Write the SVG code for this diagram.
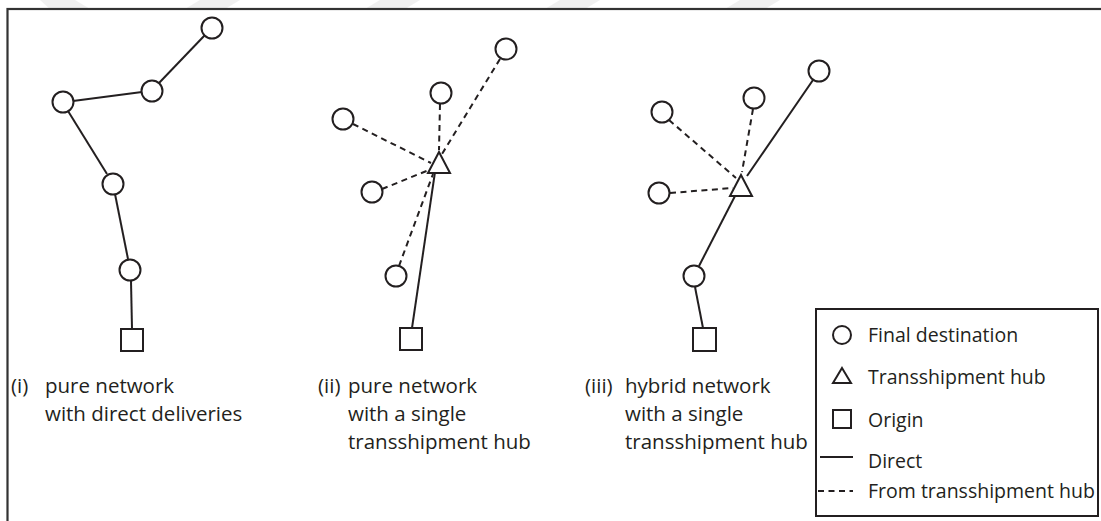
<svg xmlns="http://www.w3.org/2000/svg" width="1101" height="521" viewBox="0 0 1101 521">
<style>
.n{fill:#fff;stroke:#231f20;stroke-width:2}
.e{fill:none;stroke:#231f20;stroke-width:2}
.d{fill:none;stroke:#231f20;stroke-width:2;stroke-dasharray:6 4.5}
.t{font-family:"Open Sans","Noto Sans",sans-serif;font-size:20.5px;fill:#231f20}
.l{font-size:19.5px}
.wm{fill:#f0f0f0}
</style>
<rect width="1101" height="521" fill="#fff"/>
<g id="watermark">
<polygon class="wm" points="40,0 75,0 90,9 50,9"/>
<polygon class="wm" points="200,0 240,0 225,9 185,9"/>
<polygon class="wm" points="380,0 420,0 405,9 365,9"/>
<polygon class="wm" points="560,0 600,0 585,9 545,9"/>
<polygon class="wm" points="740,0 780,0 765,9 725,9"/>
</g>
<rect id="frame" x="7.5" y="9" width="1100" height="520" fill="none" stroke="#333" stroke-width="2.2"/>
<g id="connectors">
<line class="e" x1="205" y1="35" x2="159" y2="83"/>
<line class="e" x1="142" y1="92" x2="73" y2="101"/>
<line class="e" x1="68" y1="111" x2="107" y2="174"/>
<line class="e" x1="115" y1="194" x2="128" y2="259"/>
<line class="e" x1="131" y1="281" x2="132" y2="329"/>
<line class="e" x1="412" y1="328" x2="435" y2="172"/>
<line class="d" x1="399" y1="266" x2="433" y2="174"/>
<line class="d" x1="382" y1="189" x2="429" y2="170"/>
<line class="d" x1="353" y1="124" x2="431" y2="163"/>
<line class="d" x1="440" y1="104" x2="439" y2="150"/>
<line class="d" x1="500" y1="59" x2="442" y2="154"/>
<line class="e" x1="813" y1="80" x2="747" y2="176"/>
<line class="e" x1="735" y1="196" x2="699" y2="266"/>
<line class="e" x1="695" y1="287" x2="703" y2="328"/>
<line class="d" x1="669" y1="120" x2="736" y2="178"/>
<line class="d" x1="670" y1="193" x2="733" y2="188"/>
<line class="d" x1="753" y1="109" x2="742" y2="172"/>
</g>
<g id="panel-i">
<circle id="i-c1" class="n" cx="212" cy="28" r="10.5"/>
<circle id="i-c2" class="n" cx="152" cy="91" r="10.5"/>
<circle id="i-c3" class="n" cx="63" cy="102" r="10.5"/>
<circle id="i-c4" class="n" cx="113" cy="184" r="10.5"/>
<circle id="i-c5" class="n" cx="130" cy="270" r="10.5"/>
<rect id="i-origin" class="n" x="121" y="329" width="22" height="22"/>
</g>
<g id="panel-ii">
<circle id="ii-c1" class="n" cx="506" cy="49" r="10.5"/>
<circle id="ii-c2" class="n" cx="441" cy="93" r="10.5"/>
<circle id="ii-c3" class="n" cx="343" cy="119" r="10.5"/>
<circle id="ii-c4" class="n" cx="372" cy="192" r="10.5"/>
<circle id="ii-c5" class="n" cx="396" cy="276" r="10.5"/>
<polygon id="ii-hub" class="n" points="439,152 450,173 428,173"/>
<rect id="ii-origin" class="n" x="400" y="328" width="22" height="22"/>
</g>
<g id="panel-iii">
<circle id="iii-c1" class="n" cx="819" cy="71" r="10.5"/>
<circle id="iii-c2" class="n" cx="754" cy="98" r="10.5"/>
<circle id="iii-c3" class="n" cx="662" cy="112" r="10.5"/>
<circle id="iii-c4" class="n" cx="659" cy="193" r="10.5"/>
<circle id="iii-c5" class="n" cx="694" cy="276" r="10.5"/>
<polygon id="iii-hub" class="n" points="741,175 752,196 730,196"/>
<rect id="iii-origin" class="n" x="693" y="328" width="23" height="23"/>
</g>
<g id="labels">
<text class="t" x="11" y="393">(i)</text>
<text class="t" x="45" y="393">pure network</text>
<text class="t" x="45" y="421">with direct deliveries</text>
<text class="t" x="318" y="393">(ii)</text>
<text class="t" x="348" y="393">pure network</text>
<text class="t" x="348" y="421">with a single</text>
<text class="t" x="348" y="449">transshipment hub</text>
<text class="t" x="585" y="393">(iii)</text>
<text class="t" x="625" y="393">hybrid network</text>
<text class="t" x="625" y="421">with a single</text>
<text class="t" x="625" y="449">transshipment hub</text>
</g>
<g id="legend">
<rect class="e" x="816" y="309" width="282" height="207"/>
<circle class="n" cx="842" cy="335" r="9"/>
<text class="t l" x="868" y="342">Final destination</text>
<polygon class="n" points="842,368 851,383 833,383"/>
<text class="t l" x="868" y="384">Transshipment hub</text>
<rect class="n" x="833" y="410" width="18" height="18"/>
<text class="t l" x="868" y="427">Origin</text>
<line class="e" x1="820" y1="457" x2="853" y2="457"/>
<text class="t l" x="868" y="468">Direct</text>
<line class="d" x1="818" y1="491" x2="853" y2="491" stroke-dasharray="1 4 6 4"/>
<text class="t l" x="868" y="498">From transshipment hub</text>
</g>
</svg>
